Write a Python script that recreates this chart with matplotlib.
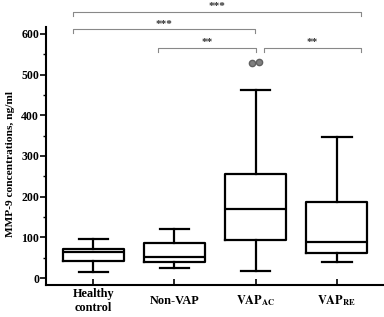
import matplotlib
matplotlib.use('Agg')
import matplotlib.pyplot as plt
from matplotlib.ticker import MultipleLocator

plt.rcParams['font.family'] = 'Liberation Serif'
plt.rcParams['font.weight'] = 'bold'
plt.rcParams['mathtext.fontset'] = 'stix'

groups = ['Healthy\ncontrol', 'Non-VAP', r'$\mathbf{VAP_{AC}}$', r'$\mathbf{VAP_{RE}}$']
whisk_low = [15, 24, 18, 40]
q1 = [41, 39, 93, 62]
median = [63, 52, 169, 88]
q3 = [72, 85, 255, 186]
whisk_high = [95, 121, 463, 347]
outliers = [[], [], [528, 530], []]
outlier_offsets = [-0.045, 0.045]

# significance brackets: (left, right, level, label)
brackets = [
    (0.75, 4.30, 653, '***'),
    (0.75, 2.99, 611, '***'),
    (1.80, 3.00, 566, '**'),
    (3.10, 4.30, 566, '**'),
]

stats = []
for i in range(len(groups)):
    stats.append({'whislo': whisk_low[i], 'q1': q1[i], 'med': median[i],
                  'q3': q3[i], 'whishi': whisk_high[i], 'fliers': []})

fig = plt.figure(figsize=(3.84, 3.17), dpi=100)
ax = fig.add_axes([0.12, 0.101, 0.88, 0.814])

lw = 1.6
ax.bxp(stats, positions=[1, 2, 3, 4], widths=0.75, capwidths=0.36,
       showfliers=False,
       boxprops=dict(color='black', linewidth=lw),
       medianprops=dict(color='black', linewidth=lw),
       whiskerprops=dict(color='black', linewidth=lw),
       capprops=dict(color='black', linewidth=lw))

for i, vals in enumerate(outliers):
    for j, v in enumerate(vals):
        ax.plot(i + 1 + outlier_offsets[j], v, 'o', color='#808080',
                markersize=4.5, markeredgecolor='#606060', clip_on=False)

for x0, x1, y, lab in brackets:
    ax.plot([x0, x0, x1, x1], [y - 10, y, y, y - 10], color='#888888',
            linewidth=0.8, clip_on=False)
    ax.text((x0 + x1) / 2, y + 2, lab, ha='center', va='bottom',
            fontsize=8, color='#333333', clip_on=False)

ax.set_xlim(0.42, 4.58)
ax.set_ylim(-17, 617)
ax.set_xticks([1, 2, 3, 4])
ax.set_xticklabels(groups, fontsize=8.8, fontweight='bold', linespacing=1.15)
for lbl in ax.get_xticklabels():
    lbl.set_verticalalignment('center')
ax.yaxis.set_major_locator(MultipleLocator(100))
ax.yaxis.set_minor_locator(MultipleLocator(50))
ax.tick_params(axis='y', direction='out', length=4, width=1.2, labelsize=8.5, pad=1)
ax.tick_params(axis='y', which='minor', direction='out', length=2.5, width=1)
ax.tick_params(axis='x', direction='in', length=4, width=1.2, pad=11.5)

for s in ['top', 'right']:
    ax.spines[s].set_visible(False)
for s in ['left', 'bottom']:
    ax.spines[s].set_linewidth(1.5)

ax.set_ylabel('MMP-9 concentrations, ng/ml', fontsize=8.2, fontweight='bold')
ax.yaxis.set_label_coords(-0.092, 0.47)

fig.savefig('out.png', dpi=100)
